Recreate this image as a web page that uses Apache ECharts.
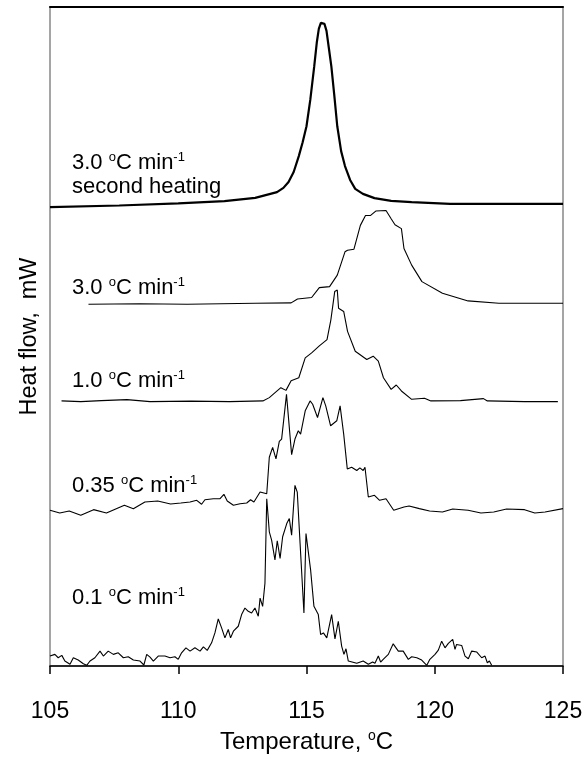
<!DOCTYPE html>
<html>
<head>
<meta charset="utf-8">
<script src="https://cdn.jsdelivr.net/npm/echarts@6/dist/echarts.min.js"></script>
<style>
  html, body { margin: 0; padding: 0; background: #fff; }
  #chart { width: 587px; height: 759px; }
</style>
</head>
<body>
<div id="chart"></div>
<script>
// x ticks
const xTicks = [105, 110, 115, 120, 125];

// stacked DSC traces, [temperature, offset heat flow (arb.)]
const secondHeating = [
  [105.0, 461.7], [107.7, 463.3], [110.0, 465.5], [111.8, 467.7], [113.0, 471],
  [113.85, 476.7], [114.1, 481], [114.3, 487], [114.5, 497], [114.7, 513],
  [114.85, 527], [115.0, 543], [115.15, 570], [115.3, 603], [115.4, 627],
  [115.48, 641], [115.56, 647], [115.63, 648], [115.7, 646], [115.78, 639],
  [115.87, 622], [115.97, 603], [116.08, 575], [116.2, 543], [116.35, 518],
  [116.5, 503], [116.7, 489], [116.9, 480], [117.2, 475], [117.65, 470.7],
  [118.3, 468], [119.1, 466.7], [120.6, 465], [125.0, 465]
];
const rate30 = [
  [106.5, 364], [108.5, 364.5], [110.35, 364], [113.0, 365], [114.4, 365.3],
  [114.65, 369.3], [115.2, 370.7], [115.5, 380.7], [115.9, 381.7], [116.2, 393.3],
  [116.5, 416.7], [116.6, 418.3], [116.85, 419.3], [117.1, 443.3], [117.3, 453.3],
  [117.5, 453.3], [117.7, 457.7], [118.1, 458.3], [118.3, 450], [118.45, 444],
  [118.7, 440], [118.8, 420], [119.1, 403.3], [119.5, 386.7], [120.3, 375],
  [121.3, 367.3], [122.5, 365], [125.0, 365]
];
const rate10 = [
  [105.45, 266.7], [106.2, 266], [107.0, 267], [108.0, 268], [108.9, 266],
  [110.5, 266.5], [112.0, 266], [113.3, 266.7], [113.55, 270], [114.0, 280],
  [114.2, 277.3], [114.4, 287], [114.7, 290], [114.95, 310], [115.2, 315],
  [115.5, 322], [115.8, 328.3], [115.95, 348.3], [116.1, 376.7], [116.2, 378.3],
  [116.25, 360], [116.45, 356.7], [116.6, 336.7], [116.9, 316.7], [117.35, 308.3],
  [117.6, 311.7], [117.8, 306.7], [118.0, 290], [118.3, 278.3], [118.5, 282.7],
  [118.7, 276.7], [119.1, 268.3], [119.6, 269.3], [119.85, 266.7], [121.0, 267],
  [121.9, 269], [122.05, 266.7], [123.5, 266], [124.8, 266]
];
const rate035 = [
  [105.0, 156.7], [105.38, 154], [105.75, 156], [106.2, 151.7], [106.7, 157.3],
  [107.2, 154], [107.9, 161.7], [108.25, 158.3], [108.7, 165], [109.2, 166],
  [109.7, 163], [110.1, 164], [110.46, 165], [110.72, 166.7], [110.91, 162.7],
  [111.04, 167.3], [111.37, 168.3], [111.63, 168.3], [111.78, 172.7], [111.91, 166],
  [112.15, 161.7], [112.41, 163.3], [112.67, 164], [112.82, 167.3], [112.95, 165],
  [113.19, 175], [113.45, 173.3], [113.55, 210], [113.68, 220], [113.81, 208.3],
  [113.94, 226], [114.03, 228.3], [114.22, 273.3], [114.42, 212.7], [114.55, 228.3],
  [114.68, 236.7], [114.77, 233.3], [114.95, 256.7], [115.14, 266.7], [115.24, 263.3],
  [115.43, 250], [115.64, 270], [115.75, 261.7], [115.94, 241.7], [116.18, 246.7],
  [116.31, 261.7], [116.45, 233.3], [116.59, 198.3], [116.76, 200], [116.96, 196.7],
  [117.08, 199.3], [117.21, 196.7], [117.28, 200], [117.41, 170], [117.65, 171.7],
  [117.85, 166.7], [118.1, 168.3], [118.4, 156.7], [118.8, 160], [119.0, 161],
  [119.4, 158.3], [119.8, 156], [120.3, 155], [120.7, 158], [121.3, 156.7],
  [121.8, 154], [122.3, 155], [122.8, 158], [123.5, 157.3], [123.9, 154],
  [124.3, 155], [125.0, 158.3]
];
const rate01 = [
  [105.00, 10], [105.19, 11.7], [105.32, 8.3], [105.46, 10.7], [105.58, 5],
  [105.78, 1.7], [105.91, 8.3], [106.10, 6], [106.30, 2.3], [106.43, 0.7],
  [106.56, 5], [106.75, 8.3], [106.95, 15], [107.08, 10], [107.27, 15],
  [107.47, 11.7], [107.66, 13.3], [107.86, 8.3], [108.05, 9.3], [108.25, 6],
  [108.51, 5], [108.66, 1], [108.77, 11.7], [108.90, 9], [109.03, 5],
  [109.22, 10], [109.48, 10], [109.68, 8.3], [109.87, 9.3], [110.00, 6.7],
  [110.13, 13.3], [110.30, 18.3], [110.46, 15], [110.65, 18.3], [110.85, 15],
  [110.98, 19.3], [111.13, 15.7], [111.30, 23.3], [111.43, 33.3], [111.56, 47.3],
  [111.69, 38.3], [111.82, 28.3], [111.95, 36.7], [112.04, 28.3], [112.15, 35],
  [112.34, 40], [112.47, 51.7], [112.60, 58.3], [112.73, 55], [112.86, 53.3],
  [112.99, 58.3], [113.12, 50], [113.19, 68.3], [113.29, 60], [113.38, 83.3],
  [113.45, 168.3], [113.55, 135], [113.64, 126.7], [113.77, 106.7], [113.86, 126],
  [113.97, 108.3], [114.07, 130], [114.23, 143.3], [114.33, 148.3], [114.42, 131.7],
  [114.55, 181.7], [114.64, 175], [114.75, 123.3], [114.90, 53.3], [114.98, 133.3],
  [115.16, 96.7], [115.29, 60], [115.46, 51.7], [115.55, 31.7], [115.66, 33.3],
  [115.79, 28.3], [115.98, 51.7], [116.11, 27.3], [116.24, 45], [116.37, 20],
  [116.46, 11.7], [116.54, 17.3], [116.63, 5], [116.96, 2.7], [117.21, 5],
  [117.41, 1.7], [117.58, 4], [117.67, 2.7], [117.80, 10], [117.89, 4],
  [117.99, 6.7], [118.19, 11.7], [118.38, 22.3], [118.58, 15], [118.77, 15],
  [118.97, 6.7], [119.10, 9.3], [119.30, 8.3], [119.49, 6], [119.69, 0.7],
  [119.81, 6.7], [120.01, 11.7], [120.14, 16], [120.27, 25], [120.40, 18.3],
  [120.53, 22.7], [120.70, 26.7], [120.79, 16.7], [120.85, 21.7], [121.05, 20.7],
  [121.18, 10], [121.31, 7.3], [121.44, 15], [121.64, 14], [121.83, 8.3],
  [121.96, 10], [122.05, 3.3], [122.13, 5], [122.22, 0.7]
];

const FONT = '"Liberation Sans", Arial, sans-serif';
const rich = {
    t: {fontSize: 22, fontFamily: FONT, color: '#000', lineHeight: 24},
    s: {fontSize: 13, fontFamily: FONT, color: '#000', lineHeight: 14, verticalAlign: 'top'}
};
const richBig = {
    t: {fontSize: 24, fontFamily: FONT, color: '#000', lineHeight: 26},
    s: {fontSize: 14, fontFamily: FONT, color: '#000', lineHeight: 15, verticalAlign: 'top'}
};

function rateLabel(rate) {
    return '{t|' + rate + ' }{s|o}{t|C min}{s|-1}';
}

function label(text, top) {
    return {type: 'text', left: 72, top: top, style: {text: text, rich: rich}};
}

function line(data, width) {
    return {
        type: 'line', data: data, showSymbol: false, silent: true,
        lineStyle: {color: '#000', width: width}
    };
}

const chart = echarts.init(document.getElementById('chart'));
chart.setOption({
    animation: false,
    backgroundColor: '#fff',
    grid: {left: 50, right: 24, top: 7, bottom: 89, show: true,
        borderColor: '#888', borderWidth: 1.5},
    xAxis: [{
        type: 'value', min: 105, max: 125, interval: 5, position: 'bottom',
        axisLine: {lineStyle: {color: '#000', width: 1.5}},
        axisTick: {inside: false, length: 8, lineStyle: {color: '#000', width: 1.5}},
        axisLabel: {fontSize: 23, fontFamily: FONT, color: '#000', margin: 34,
            customValues: xTicks},
        splitLine: {show: false},
        name: '{t|Temperature, }{s|o}{t|C}',
        nameLocation: 'middle', nameGap: 63,
        nameTextStyle: {rich: richBig}
    }, {
        type: 'value', min: 105, max: 125, position: 'top',
        axisLine: {show: true, onZero: false, lineStyle: {color: '#000', width: 2}},
        axisTick: {show: false}, axisLabel: {show: false}, splitLine: {show: false}
    }],
    yAxis: [{
        type: 'value', min: 0, max: 663, position: 'left',
        axisLine: {show: false},
        axisTick: {show: false}, axisLabel: {show: false}, splitLine: {show: false},
        name: 'Heat flow,  mW', nameLocation: 'middle', nameGap: 8, nameRotate: 90,
        nameTextStyle: {fontSize: 23.5, fontFamily: FONT, color: '#000'}
    }],
    series: [
        line(secondHeating, 2.2),
        line(rate30, 1.1),
        line(rate10, 1.1),
        line(rate035, 1.1),
        line(rate01, 1.1)
    ],
    graphic: [
        label(rateLabel('3.0') + '\n{t|second heating}', 151),
        label(rateLabel('3.0'), 276),
        label(rateLabel('1.0'), 369),
        label(rateLabel('0.35'), 474),
        label(rateLabel('0.1'), 586)
    ]
});
</script>
</body>
</html>
